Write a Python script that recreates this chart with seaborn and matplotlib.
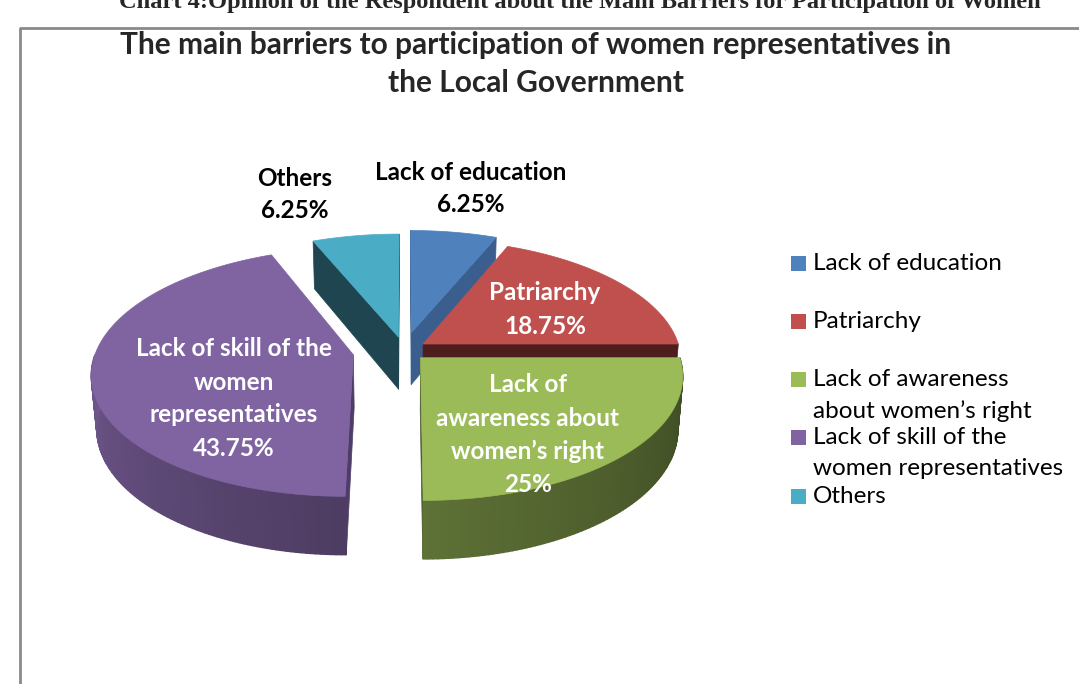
import numpy as np
import matplotlib
matplotlib.use("Agg")
import matplotlib.pyplot as plt
from matplotlib.patches import Polygon, Rectangle
import seaborn as sns

# ---- data -------------------------------------------------------------
categories = [
    "Lack of education",
    "Patriarchy",
    "Lack of awareness about women’s right",
    "Lack of skill of the women representatives",
    "Others",
]
shares = [6.25, 18.75, 25.0, 43.75, 6.25]

# wrapped text used on the slices and in the legend
slice_label_lines = [
    ["Lack of education"],
    ["Patriarchy"],
    ["Lack of", "awareness about", "women’s right"],
    ["Lack of skill of the", "women", "representatives"],
    ["Others"],
]
legend_label_lines = [
    ["Lack of education"],
    ["Patriarchy"],
    ["Lack of awareness", "about women’s right"],
    ["Lack of skill of the", "women representatives"],
    ["Others"],
]
title = "The main barriers to participation of women representatives in\nthe Local Government"
caption = "Chart 4:Opinion of the Respondent about the Main Barriers for Participation of Women"

# ---- style ------------------------------------------------------------
sns.set_theme(style="white")
palette = sns.color_palette(["#4F81BD", "#C0504D", "#9BBB59", "#8064A2", "#4BACC6"])
cut_face_colors = ["#3A5F8E", "#4E1E1E", "#4A5A2A", "#4E3D66", "#1F4550"]
explode = [0.15, 0.09, 0.09, 0.20, 0.11]
label_colors = ["black", "white", "white", "white", "black"]
label_anchor = [(471, 172), (545, 293), (528, 385), (234, 349), (295, 178)]
plt.rcParams["font.family"] = ["Lato", "DejaVu Sans"]

W, H_PX = 1079, 684
fig = plt.figure(figsize=(W / 100, H_PX / 100), dpi=100)
ax = fig.add_axes([0, 0, 1, 1])
ax.set_xlim(0, W)
ax.set_ylim(H_PX, 0)
ax.axis("off")

# ---- simple perspective camera for a tilted disc -------------------------
ELEV = np.radians(28)
K = 0.138
DIST = np.cos(ELEV) / K
RX = 257.0
FOCAL = RX * DIST
THICK = 0.236
CX, CY = 404.0, 350.0
cam = np.array([0.0, -DIST * np.cos(ELEV), DIST * np.sin(ELEV)])


def proj(X, Y, Z):
    depth = DIST + Y * np.cos(ELEV) - Z * np.sin(ELEV)
    sx = CX + FOCAL * X / depth
    sy = CY - FOCAL * (Y * np.sin(ELEV) + Z * np.cos(ELEV)) / depth
    return sx, sy


def shade(rgb, f):
    return tuple(np.clip(np.array(rgb) * f, 0, 1))


angles = np.radians(360 * np.concatenate([[0], np.cumsum(shares)]) / np.sum(shares))

order = []
for i in range(len(shares)):
    t0, t1 = angles[i], angles[i + 1]
    mid = (t0 + t1) / 2
    ox, oy = explode[i] * np.sin(mid), explode[i] * np.cos(mid)
    order.append((oy + 0.5 * np.cos(mid), i, t0, t1, ox, oy))
order.sort(reverse=True)  # farthest slice first

for _, i, t0, t1, ox, oy in order:
    base = palette[i]
    # cut faces along the two radii
    for edge, sgn in ((t0, -1), (t1, 1)):
        n = np.array([sgn * np.cos(edge), -sgn * np.sin(edge), 0.0])
        p = np.array([ox, oy, 0.0])
        if n @ (cam - p) > 0:
            ex, ey = ox + np.sin(edge), oy + np.cos(edge)
            pts = [proj(ox, oy, 0), proj(ex, ey, 0), proj(ex, ey, -THICK), proj(ox, oy, -THICK)]
            ax.add_patch(Polygon(pts, closed=True, facecolor=cut_face_colors[i],
                                 edgecolor=cut_face_colors[i], lw=0.5))
    # outer rim wall on the near half, shaded across its sweep
    lo, hi = max(t0, np.pi / 2), min(t1, 1.5 * np.pi)
    if hi > lo:
        tw = np.linspace(lo, hi, int(np.degrees(hi - lo)) + 2)
        for a, b in zip(tw[:-1], tw[1:]):
            frac = ((a + b) / 2 - np.pi / 2) / np.pi
            col = shade(base, 0.40 + 0.47 * frac ** 1.2)
            pts = [proj(ox + np.sin(a), oy + np.cos(a), 0), proj(ox + np.sin(b), oy + np.cos(b), 0),
                   proj(ox + np.sin(b), oy + np.cos(b), -THICK), proj(ox + np.sin(a), oy + np.cos(a), -THICK)]
            ax.add_patch(Polygon(pts, closed=True, facecolor=col, edgecolor=col, lw=1.0))
    # top face
    t = np.linspace(t0, t1, 200)
    xs, ys = proj(ox + np.sin(t), oy + np.cos(t), 0 * t)
    px, py = proj(ox, oy, 0)
    ax.add_patch(Polygon(np.column_stack([np.r_[px, xs], np.r_[py, ys]]), closed=True,
                         facecolor=base, edgecolor=base, lw=0.5))

# ---- data labels ------------------------------------------------------------
for i, share in enumerate(shares):
    lines = slice_label_lines[i] + [f"{share:g}%"]
    x0, y0 = label_anchor[i]
    for j, line in enumerate(lines):
        ax.text(x0, y0 + j * 33, line, ha="center", va="center", fontsize=17.5,
                fontweight="bold", color=label_colors[i])

# ---- legend -------------------------------------------------------------------
for i, lines in enumerate(legend_label_lines):
    yi = 263 + 58.3 * i
    ax.add_patch(Rectangle((791, yi - 7.5), 15, 15, facecolor=palette[i], edgecolor="none"))
    for j, line in enumerate(lines):
        ax.text(813, yi + 31 * j, line, ha="left", va="center", fontsize=17.5, color="black")

# ---- titles and frame ---------------------------------------------------------
ax.text(536, 45, title.split("\n")[0], ha="center", va="center", fontsize=21.5, fontweight="bold")
ax.text(536, 83, title.split("\n")[1], ha="center", va="center", fontsize=21.5, fontweight="bold")
ax.text(580, 8, caption, ha="center", va="baseline", fontsize=17.6, fontweight="bold",
        family=["Liberation Serif", "DejaVu Serif"])
ax.plot([20, 20, W + 5], [H_PX + 5, 28, 28], color="#8A8A8A", lw=2, solid_capstyle="butt")

fig.savefig("out.png", dpi=100)
